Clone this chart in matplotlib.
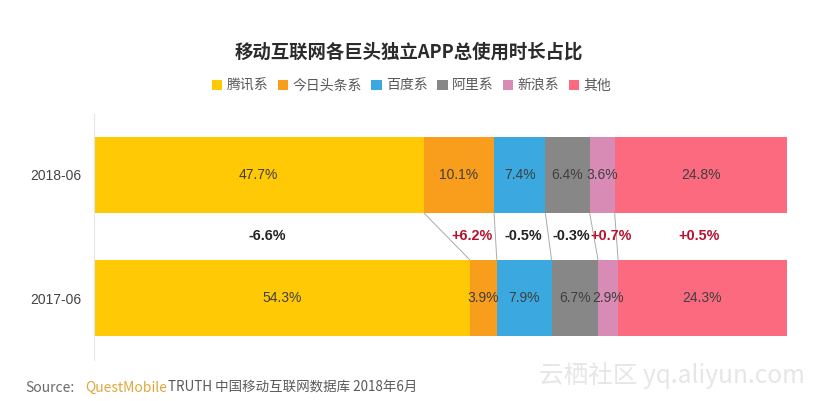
import numpy as np
import matplotlib
matplotlib.use("Agg")
import matplotlib.pyplot as plt

plt.rcParams['font.family'] = ['Noto Sans CJK SC', 'DejaVu Sans']

periods = ['2017-06', '2018-06']
series_names = ['腾讯系', '今日头条系', '百度系', '阿里系', '新浪系', '其他']
colors = ['#FFCA05', '#F99D1C', '#3BA9DF', '#878787', '#D88BB5', '#FB6A7E']
values_2017 = [54.3, 3.9, 7.9, 6.7, 2.9, 24.3]
values_2018 = [47.7, 10.1, 7.4, 6.4, 3.6, 24.8]
changes = ['-6.6%', '+6.2%', '-0.5%', '-0.3%', '+0.7%', '+0.5%']
change_x = [25.1, 54.6, 62.0, 68.9, 74.7, 87.4]

W, H = 818, 401
fig = plt.figure(figsize=(W / 100, H / 100), dpi=100, facecolor='white')
ax = fig.add_axes([93.5 / W, 1 - 359.5 / H, 693 / W, 246 / H])

rows = np.array([values_2017, values_2018])
lefts = np.hstack([np.zeros((2, 1)), np.cumsum(rows, axis=1)[:, :-1]])
for j, (name, c) in enumerate(zip(series_names, colors)):
    ax.barh([0, 1], rows[:, j], left=lefts[:, j], height=0.62, color=c, label=name, linewidth=0)
    for i in range(2):
        ax.text(lefts[i, j] + rows[i, j] / 2, i, f'{rows[i, j]:.1f}%', ha='center', va='center',
                fontsize=10, color='#3f3f3f', family=['Liberation Sans', 'DejaVu Sans'])

# connector lines between the two bars
rights = np.cumsum(rows, axis=1)
for j in range(len(series_names)):
    ax.plot([rights[0, j], rights[1, j]], [0.31, 0.69], color='#aaaaaa', lw=0.7, solid_capstyle='butt')

# change labels between the bars
for x, s in zip(change_x, changes):
    ax.text(x, 0.5, s, ha='center', va='center', fontsize=10.4, fontweight='bold',
            color='#b5122e' if s.startswith('+') else '#222222',
            family=['Liberation Sans', 'DejaVu Sans'])

ax.set_xlim(0, 100)
ax.set_ylim(-0.5, 1.5)
ax.set_yticks([0, 1], periods)
ax.set_xticks([])
ax.tick_params(axis='y', length=0, pad=8.5, labelsize=10, labelcolor='#444444')
for lab in ax.get_yticklabels():
    lab.set_family(['Liberation Sans', 'DejaVu Sans'])
for s in ['top', 'right', 'bottom']:
    ax.spines[s].set_visible(False)
ax.spines['left'].set_color('#e4e4e4')
ax.spines['left'].set_linewidth(0.8)

fig.text(409 / W, 1 - 52.5 / H, '移动互联网各巨头独立APP总使用时长占比', ha='center', va='center',
         fontsize=13.25, fontweight='bold', color='#2b2b2b')

handles, labels = ax.get_legend_handles_labels()
fig.legend(handles, labels, loc='center', bbox_to_anchor=(411.5 / W, 1 - 85.5 / H), ncol=6, frameon=False,
           fontsize=10, labelcolor='#595959', handlelength=0.75, handleheight=0.75,
           handletextpad=0.3, columnspacing=0.69, borderpad=0)

fig.text(25 / W, 1 - 388 / H, 'Source:', ha='left', va='center', fontsize=10, color='#6a6a6a')
fig.text(85 / W, 1 - 388 / H, 'QuestMobile', ha='left', va='center', fontsize=10, color='#E0A83C')
fig.text(167.5 / W, 1 - 388 / H, 'TRUTH 中国移动互联网数据库 2018年6月', ha='left', va='center',
         fontsize=9.7, color='#5a5a5a')
fig.text(672 / W, 1 - 376 / H, '云栖社区 yq.aliyun.com', ha='center', va='center', fontsize=17.7,
         color='#e6e6e6', zorder=5)

fig.savefig('out.png', dpi=100, facecolor='white')
